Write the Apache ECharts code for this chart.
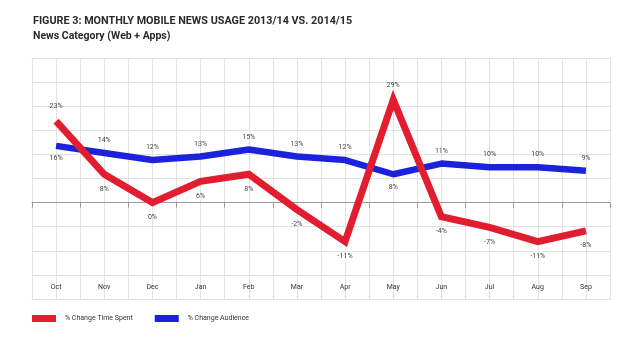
<!DOCTYPE html>
<html>
<head>
<meta charset="utf-8">
<script src="https://cdn.jsdelivr.net/npm/echarts@6/dist/echarts.min.js"></script>
<style>html,body{margin:0;padding:0;background:#fff}#c{width:638px;height:349px}</style>
</head>
<body>
<div id="c"></div>
<script>
const months = ['Oct','Nov','Dec','Jan','Feb','Mar','Apr','May','Jun','Jul','Aug','Sep'];
const timeSpent = [23, 8, 0, 6, 8, -2, -11, 29, -4, -7, -11, -8];
const audience = [16, 14, 12, 13, 15, 13, 12, 8, 11, 10, 10, 9];
const timeSpentLabelSide = ['top','bottom','bottom','bottom','bottom','bottom','bottom','top','bottom','bottom','bottom','bottom'];
const audienceLabelSide = ['bottom','top','top','top','top','top','top','bottom','top','top','top','top'];
const seriesNames = ['% Change Time Spent', '% Change Audience'];

const chart = echarts.init(document.getElementById('c'), null, {renderer: 'canvas'});
const gridLine = '#e2e2e2';
const halfCats = Array.from({length: months.length * 2}, (_, i) => String(i));

function mk(values, sides) {
  return values.map((v, i) => ({
    value: v,
    label: { position: sides[i] }
  }));
}

chart.setOption({
  animation: false,
  backgroundColor: '#fff',
  title: [
    { text: 'FIGURE 3: MONTHLY MOBILE NEWS USAGE 2013/14 VS. 2014/15', left: 33, top: 16, padding: 0,
      textStyle: { fontFamily: 'Roboto', fontWeight: 'bold', fontSize: 10.8, color: '#2a2a2a' } },
    { text: 'News Category (Web + Apps)', left: 33, top: 31, padding: 0,
      textStyle: { fontFamily: 'Roboto', fontWeight: 'bold', fontSize: 10.5, color: '#2a2a2a' } }
  ],
  legend: {
    left: 32, top: 315, padding: 0,
    itemWidth: 24, itemHeight: 7, itemGap: 22,
    icon: 'rect',
    textStyle: { fontFamily: 'Roboto', fontSize: 7, color: '#333', padding: [0, 0, 0, 4] },
    data: seriesNames
  },
  grid: { left: 32, right: 28, top: 58, bottom: 50, containLabel: false, outerBoundsMode: 'none' },
  xAxis: [
    {
      type: 'category', data: months, boundaryGap: true, position: 'bottom',
      axisLine: { show: true, onZero: false, lineStyle: { color: gridLine } },
      axisTick: { show: false },
      axisLabel: { show: true, inside: true, margin: 8, fontFamily: 'Roboto', fontSize: 7, color: '#333' },
      splitLine: { show: false }
    },
    {
      type: 'category', data: halfCats, boundaryGap: true, position: 'top',
      axisLine: { show: true, onZero: false, lineStyle: { color: gridLine } },
      axisTick: { show: false }, axisLabel: { show: false },
      splitLine: { show: true, lineStyle: { color: gridLine, width: 1 } }
    },
    {
      type: 'category', data: months, boundaryGap: true, position: 'bottom',
      axisLine: { show: true, onZero: true, lineStyle: { color: '#9a9a9a', width: 1 } },
      axisTick: { show: true, length: 5, lineStyle: { color: '#9a9a9a' } },
      axisLabel: { show: false },
      splitLine: { show: false }
    }
  ],
  yAxis: {
    type: 'value', min: -27.2, max: 40.8, interval: 6.8,
    axisLine: { show: false }, axisTick: { show: false }, axisLabel: { show: false },
    splitLine: { show: true, lineStyle: { color: gridLine, width: 1 } }
  },
  series: [
    {
      name: seriesNames[0], type: 'line', data: mk(timeSpent, timeSpentLabelSide), z: 4,
      symbol: 'circle', symbolSize: 0.1, showSymbol: true, color: '#e11d2f',
      lineStyle: { width: 7, color: '#e11d2f', join: 'miter', cap: 'butt' },
      label: { show: true, formatter: p => p.value + '%', fontFamily: 'Roboto', fontSize: 7, color: '#444', distance: 11 }
    },
    {
      name: seriesNames[1], type: 'line', data: mk(audience, audienceLabelSide), z: 3,
      symbol: 'circle', symbolSize: 0.1, showSymbol: true, color: '#1c22dc',
      lineStyle: { width: 6.5, color: '#1c22dc', join: 'round' },
      label: { show: true, formatter: p => p.value + '%', fontFamily: 'Roboto', fontSize: 7, color: '#444', distance: 9 }
    }
  ]
});
</script>
</body>
</html>
